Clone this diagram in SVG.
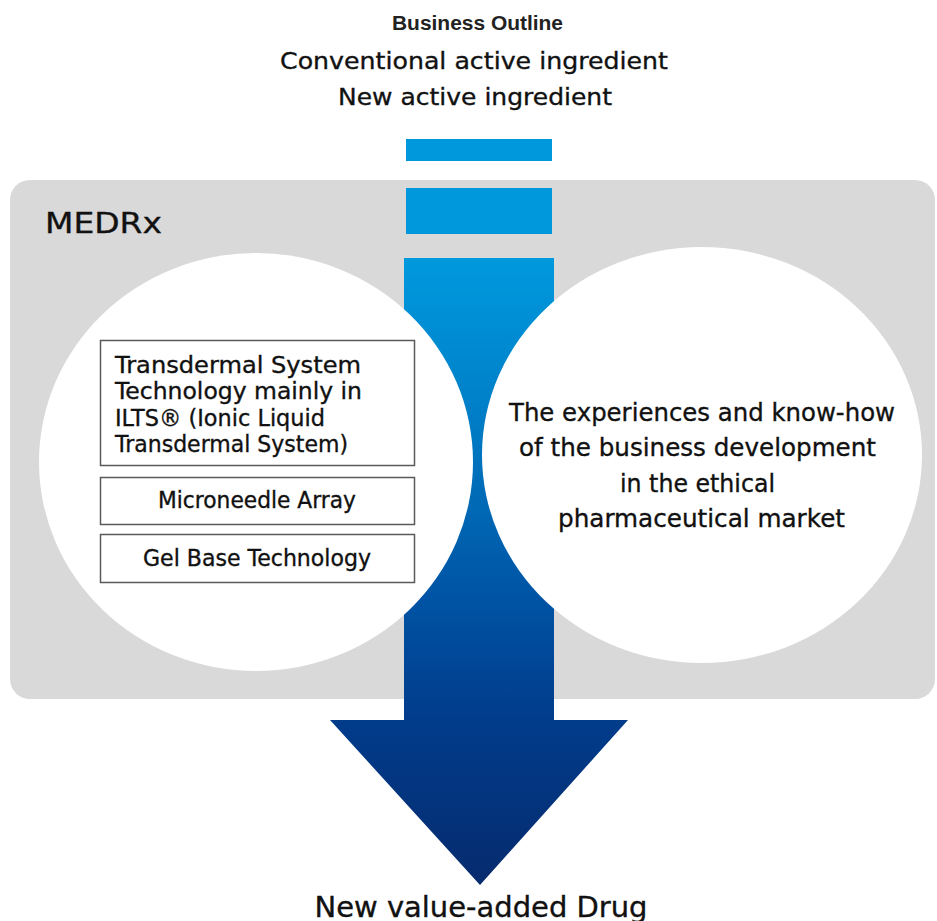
<svg xmlns="http://www.w3.org/2000/svg" width="937" height="921" viewBox="0 0 937 921">
  <style>
    .txt { font-family: "DejaVu Sans", "Liberation Sans", Arial, sans-serif; fill: #111111; stroke: #111111; stroke-width: 0.35; }
    .title { font-family: "Liberation Sans", Arial, sans-serif; font-weight: bold; font-size: 20px; fill: #222; }
    .head { font-size: 23.5px; }
    .box { fill: #ffffff; stroke: #5a5a5a; stroke-width: 1.5; }
    .bubble { fill: #ffffff; }
    .bar { fill: #0098dc; }
  </style>
  <defs>
    <linearGradient id="flowGrad" gradientUnits="userSpaceOnUse" x1="0" y1="258" x2="0" y2="885">
      <stop offset="0" stop-color="#0099dd"/>
      <stop offset="0.226" stop-color="#0081c9"/>
      <stop offset="0.545" stop-color="#0053a4"/>
      <stop offset="0.737" stop-color="#013c8b"/>
      <stop offset="1" stop-color="#062b6e"/>
    </linearGradient>
  </defs>

  <rect width="937" height="921" fill="#ffffff"/>

  <!-- heading -->
  <g id="heading">
    <text class="title" x="477.5" y="30" text-anchor="middle" textLength="171" lengthAdjust="spacingAndGlyphs">Business Outline</text>
    <text class="txt head" x="474" y="69" text-anchor="middle" textLength="388" lengthAdjust="spacingAndGlyphs">Conventional active ingredient</text>
    <text class="txt head" x="475" y="105" text-anchor="middle" textLength="274" lengthAdjust="spacingAndGlyphs">New active ingredient</text>
  </g>

  <!-- company panel -->
  <g id="medrx-panel">
    <rect x="10" y="180" width="925" height="519" rx="20" ry="20" fill="#d9d9d9"/>
    <text class="txt" x="45" y="233" font-size="29" stroke-width="0.6" textLength="117" lengthAdjust="spacingAndGlyphs">MEDRx</text>
  </g>

  <!-- flow arrow: ingredients in, new drug out -->
  <g id="connectors">
    <rect class="bar" x="406" y="139" width="146" height="22"/>
    <rect class="bar" x="406" y="188" width="146" height="46"/>
    <polygon points="404,258 554,258 554,720 628,720 480,885 330,720 404,720" fill="url(#flowGrad)"/>
  </g>

  <!-- technology bubble -->
  <g id="technology">
    <ellipse class="bubble" cx="256" cy="462" rx="217" ry="209"/>
    <g id="tech-ilts">
      <rect class="box" x="100.5" y="340.5" width="314" height="125"/>
      <text class="txt" font-size="23" x="115" y="373" textLength="246" lengthAdjust="spacingAndGlyphs">Transdermal System</text>
      <text class="txt" font-size="23" x="115" y="399" textLength="247" lengthAdjust="spacingAndGlyphs">Technology mainly in</text>
      <text class="txt" font-size="23" x="115" y="426" textLength="210" lengthAdjust="spacingAndGlyphs">ILTS® (Ionic Liquid</text>
      <text class="txt" font-size="23" x="115" y="452" textLength="233" lengthAdjust="spacingAndGlyphs">Transdermal System)</text>
    </g>
    <g id="tech-microneedle">
      <rect class="box" x="100.5" y="477.5" width="314" height="47"/>
      <text class="txt" font-size="23" x="257" y="508" text-anchor="middle" textLength="198" lengthAdjust="spacingAndGlyphs">Microneedle Array</text>
    </g>
    <g id="tech-gel">
      <rect class="box" x="100.5" y="534.5" width="314" height="48"/>
      <text class="txt" font-size="23" x="257" y="566" text-anchor="middle" textLength="228" lengthAdjust="spacingAndGlyphs">Gel Base Technology</text>
    </g>
  </g>

  <!-- business experience bubble -->
  <g id="experience">
    <ellipse class="bubble" cx="702" cy="455" rx="220" ry="208"/>
    <text class="txt" font-size="24.5" x="702" y="421" text-anchor="middle" textLength="386" lengthAdjust="spacingAndGlyphs">The experiences and know-how</text>
    <text class="txt" font-size="24.5" x="697.5" y="456" text-anchor="middle" textLength="357" lengthAdjust="spacingAndGlyphs">of the business development</text>
    <text class="txt" font-size="24.5" x="697.5" y="492" text-anchor="middle" textLength="155" lengthAdjust="spacingAndGlyphs">in the ethical</text>
    <text class="txt" font-size="24.5" x="701.5" y="527" text-anchor="middle" textLength="287" lengthAdjust="spacingAndGlyphs">pharmaceutical market</text>
  </g>

  <!-- outcome, printed against the lower edge -->
  <g id="outcome">
    <text class="txt" font-size="28" x="481" y="917" text-anchor="middle" textLength="333" lengthAdjust="spacingAndGlyphs">New value-added Drug</text>
  </g>
</svg>
